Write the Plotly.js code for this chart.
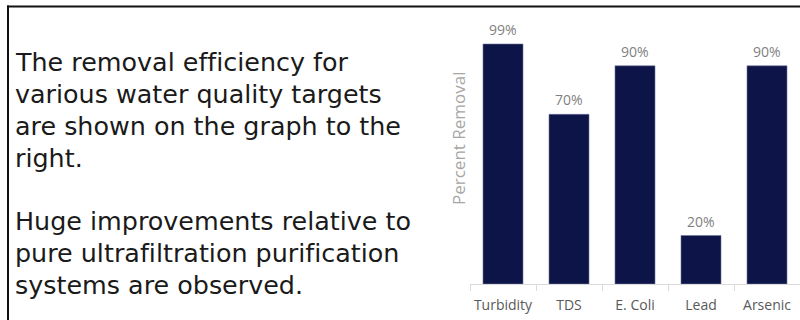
<!DOCTYPE html>
<html>
<head>
<meta charset="utf-8">
<script src="https://cdn.plot.ly/plotly-3.0.1.min.js"></script>
<style>html,body{margin:0;padding:0;background:#fff;}#chart{width:800px;height:320px;}
svg text{font-variant-ligatures:none !important;font-feature-settings:"liga" 0 !important;}</style>
</head>
<body>
<div id="chart"></div>
<script>
// Data
const categories = ["Turbidity", "TDS", "E. Coli", "Lead", "Arsenic"];
const removalPercent = [99, 70, 90, 20, 90];
const yAxisLabel = "Percent Removal";
const sideTextLines = [
  "The removal efficiency for",
  "various water quality targets",
  "are shown on the graph to the",
  "right.",
  "",
  "Huge improvements relative to",
  "pure ultrafiltration purification",
  "systems are observed."
];

const W = 800, H = 320;
const M = {l: 470, r: 0, t: 20, b: 36};
const PW = W - M.l - M.r, PH = H - M.t - M.b;
const px = x => (x - M.l) / PW;
const py = y => (H - M.b - y) / PH;

const annotations = [];
// value labels
categories.forEach((c, i) => {
  annotations.push({
    x: c, y: removalPercent[i], xref: 'x', yref: 'y',
    text: removalPercent[i] + '%', showarrow: false,
    yanchor: 'bottom', yshift: 3,
    font: {family: 'Open Sans', size: 14, color: '#7f7f7f'}
  });
});
// y-axis label
annotations.push({
  x: px(458), y: py(138), xref: 'paper', yref: 'paper',
  text: yAxisLabel, textangle: -90, showarrow: false,
  xanchor: 'center', yanchor: 'middle',
  font: {family: 'Open Sans', size: 17, color: '#a6a6a6'}
});
// side text
const lineY0 = 62, lineStep = 31.9;
sideTextLines.forEach((t, i) => {
  if (!t) return;
  annotations.push({
    x: px(13), y: py(lineY0 + i * lineStep), xref: 'paper', yref: 'paper',
    text: t, showarrow: false, xanchor: 'left', yanchor: 'middle',
    font: {family: 'DejaVu Sans', size: 25.4, color: '#1a1a1a'}
  });
});

const shapes = [
  {type: 'line', xref: 'paper', yref: 'paper', x0: px(7), x1: px(801), y0: py(6.5), y1: py(6.5), line: {color: '#111', width: 2}},
  {type: 'line', xref: 'paper', yref: 'paper', x0: px(8), x1: px(8), y0: py(5.5), y1: py(322), line: {color: '#111', width: 2}}
];

const data = [{
  type: 'bar', x: categories, y: removalPercent,
  marker: {color: '#0c1448', line: {color: '#6b7299', width: 0.6}},
  hoverinfo: 'none'
}];

const layout = {
  width: W, height: H,
  margin: M,
  paper_bgcolor: '#fff', plot_bgcolor: '#fff',
  showlegend: false,
  bargap: 0.394,
  xaxis: {
    range: [-0.5, 4.5], showgrid: false, zeroline: false,
    showline: true, linecolor: '#d9d9d9', linewidth: 1,
    ticks: 'outside', tickson: 'boundaries', ticklen: 6, tickcolor: '#d9d9d9',
    tickangle: 0,
    tickfont: {family: 'Open Sans', size: 14, color: '#595959'},
    ticklabelstandoff: 8
  },
  yaxis: {
    range: [0, PH / 2.424], showgrid: false, zeroline: false,
    showline: false, showticklabels: false, ticks: ''
  },
  annotations: annotations,
  shapes: shapes
};

Plotly.newPlot('chart', data, layout, {displayModeBar: false, staticPlot: true});
</script>
</body>
</html>
